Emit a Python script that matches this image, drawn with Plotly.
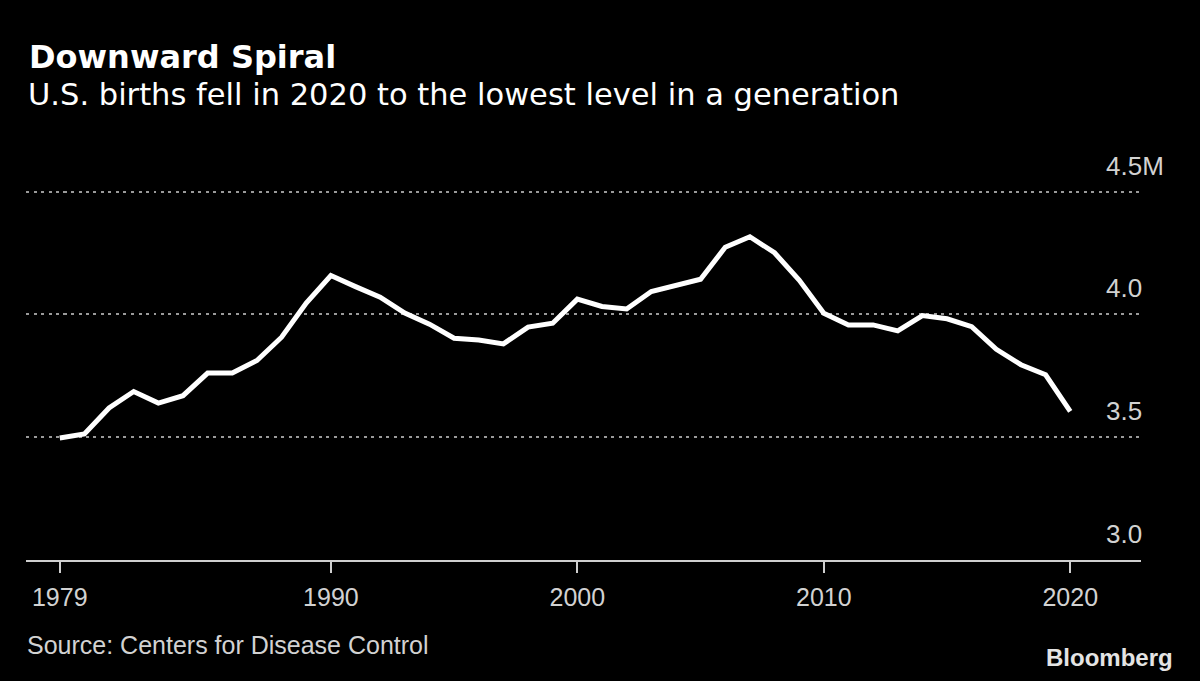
import plotly.graph_objects as go

years = list(range(1979, 2021))
births_m = [3.497, 3.513, 3.619, 3.686, 3.639, 3.669, 3.761, 3.761, 3.812, 3.907,
            4.046, 4.158, 4.113, 4.070, 4.005, 3.960, 3.903, 3.896, 3.880, 3.948,
            3.964, 4.062, 4.032, 4.022, 4.093, 4.116, 4.143, 4.273, 4.316, 4.251,
            4.140, 4.005, 3.957, 3.957, 3.933, 3.995, 3.982, 3.950, 3.858, 3.795,
            3.754, 3.605]
x_tick_vals = [1979, 1990, 2000, 2010, 2020]
y_tick_vals = [3.0, 3.5, 4.0, 4.5]
y_tick_text = ["3.0", "3.5", "4.0", "4.5M"]

W, H = 1200, 681
ML, MR, MT, MB = 26, 58.5, 167, 120.5
PW, PH = W - ML - MR, H - MT - MB


def px(x):
    return (x - ML) / PW


def py(y):
    return (H - MB - y) / PH


SANS = "Liberation Sans"
HEAD = "DejaVu Sans"
GREY = "#d2d2d2"

fig = go.Figure()
fig.add_trace(go.Scatter(x=years, y=births_m, mode="lines",
                         line=dict(color="white", width=5), hoverinfo="skip"))

fig.update_layout(
    width=W, height=H,
    paper_bgcolor="black", plot_bgcolor="black",
    margin=dict(l=ML, r=MR, t=MT, b=MB),
    showlegend=False,
    xaxis=dict(range=[1977.63, 2022.87], tickvals=x_tick_vals,
               showgrid=False, zeroline=False,
               showline=True, linecolor="#cfcfcf", linewidth=2,
               ticks="outside", ticklen=11, tickwidth=2, tickcolor="#cfcfcf",
               tickfont=dict(family=SANS, size=25, color=GREY),
               ticklabelstandoff=3),
    yaxis=dict(range=[3.0, 4.6], tickvals=y_tick_vals, showticklabels=False,
               showgrid=True, gridcolor="#9a9a9a", gridwidth=2, griddash="3px,4.5px",
               zeroline=False, showline=False),
)

anns = []
anns.append(dict(text="<b>Downward Spiral</b>", xref="paper", yref="paper",
                 x=px(27), y=py(57), xanchor="left", yanchor="middle",
                 showarrow=False, font=dict(family=HEAD, size=32, color="white")))
anns.append(dict(text="U.S. births fell in 2020 to the lowest level in a generation",
                 xref="paper", yref="paper", x=px(26), y=py(94),
                 xanchor="left", yanchor="middle", showarrow=False,
                 font=dict(family=HEAD, size=30.5, color="white")))
for v, t in zip(y_tick_vals, y_tick_text):
    anns.append(dict(text=t, xref="paper", yref="y", x=px(1104), y=v,
                     xanchor="left", yanchor="middle", yshift=26, showarrow=False,
                     font=dict(family=SANS, size=26, color=GREY)))
anns.append(dict(text="Source: Centers for Disease Control", xref="paper", yref="paper",
                 x=px(25), y=py(646), xanchor="left", yanchor="middle",
                 showarrow=False, font=dict(family=SANS, size=25, color=GREY)))
anns.append(dict(text="<b>Bloomberg</b>", xref="paper", yref="paper",
                 x=px(1176), y=py(658), xanchor="right", yanchor="middle",
                 showarrow=False, font=dict(family=SANS, size=24, color="#e4e4e4")))
fig.update_layout(annotations=anns)

fig.write_html("out.html", config={"displayModeBar": False},
               post_script="document.body.style.margin='0px';")
